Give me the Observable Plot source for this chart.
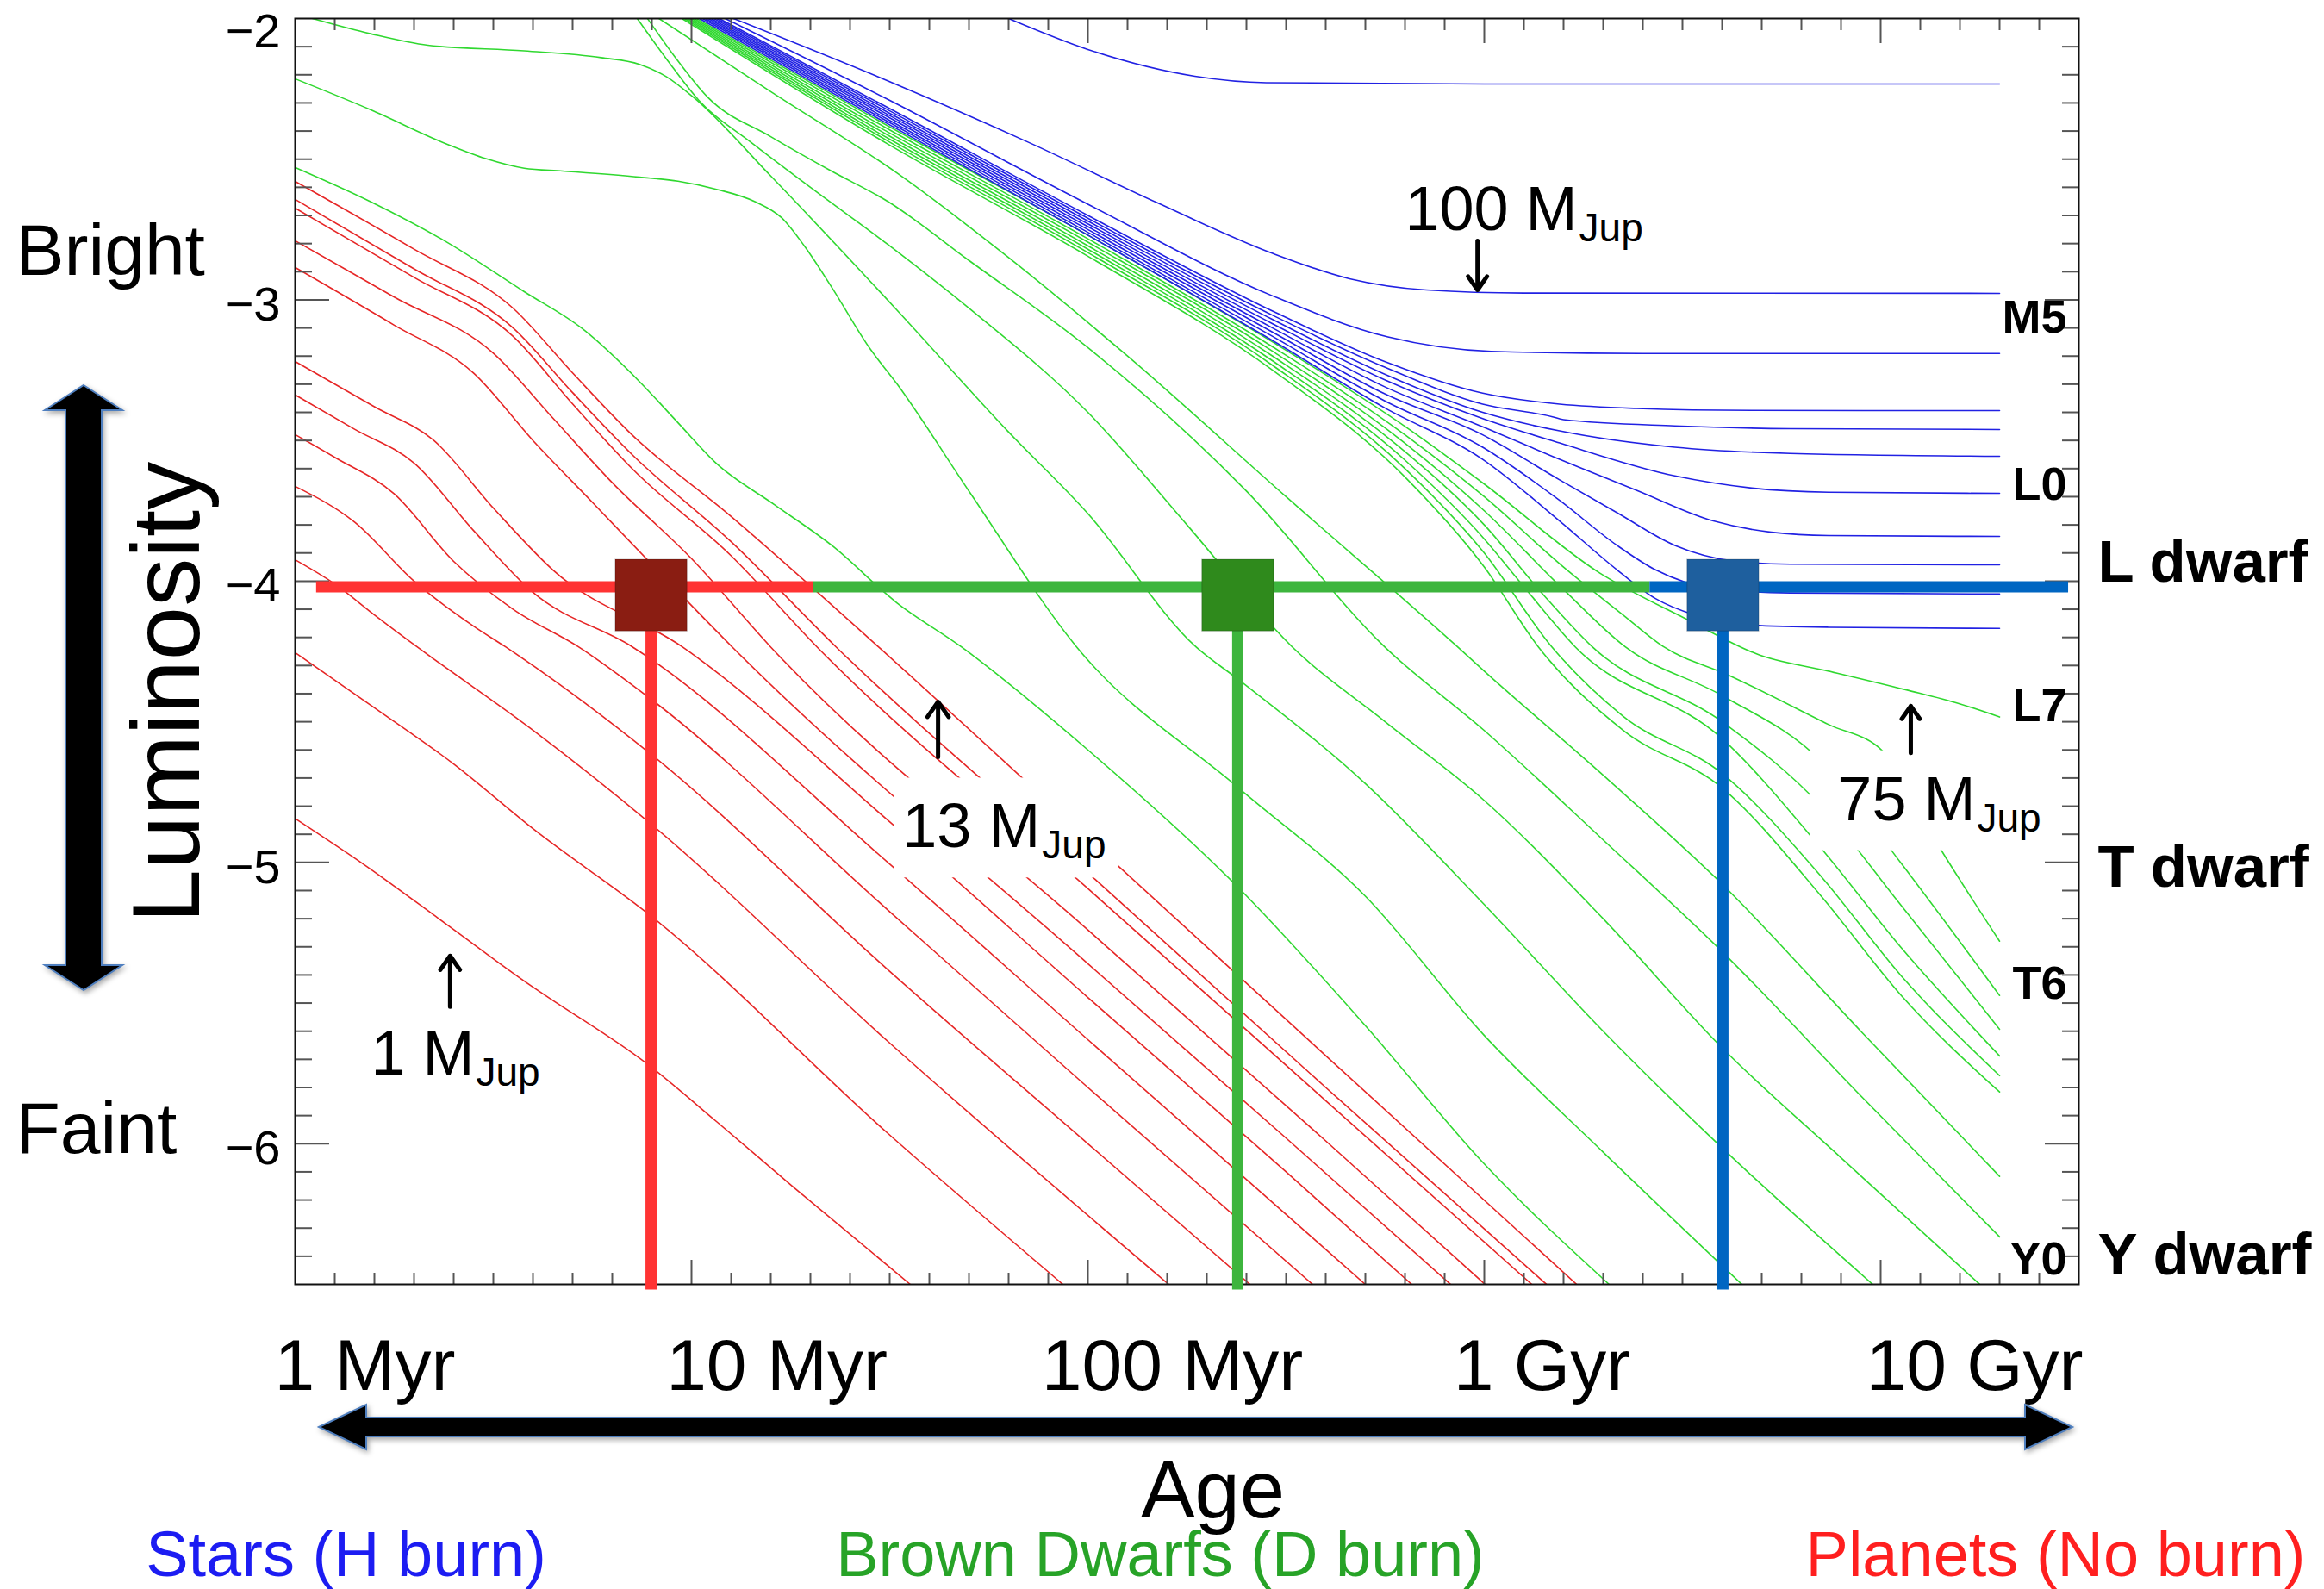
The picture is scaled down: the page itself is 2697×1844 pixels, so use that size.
<!DOCTYPE html>
<html><head><meta charset="utf-8">
<script src="https://cdn.jsdelivr.net/npm/d3@7"></script>
<script src="https://cdn.jsdelivr.net/npm/@observablehq/plot@0.6"></script>
<style>
body{margin:0;background:#fff;}
#chart svg{display:block;}
</style></head><body><div id="chart"></div>
<script>
// ---- Data: evolutionary tracks, [log10(age/yr), log10(L/Lsun)] ----
const planetTracks = [
  [[6.0,-2.579],[6.3,-2.82],[6.55,-3.03],[6.7,-3.26],[6.85,-3.48],[7.1,-3.77],[7.471,-4.233],[8.0,-4.914],[8.6,-5.687],[9.233,-6.5]],
  [[6.0,-2.643],[6.3,-2.89],[6.55,-3.10],[6.7,-3.33],[6.85,-3.55],[7.1,-3.86],[7.364,-4.233],[8.0,-5.037],[8.6,-5.80],[9.157,-6.5]],
  [[6.0,-2.674],[6.3,-2.92],[6.55,-3.13],[6.7,-3.37],[6.85,-3.60],[7.1,-3.91],[7.316,-4.233],[8.0,-5.093],[8.6,-5.847],[9.12,-6.5]],
  [[6.0,-2.79],[6.25,-2.99],[6.5,-3.19],[6.65,-3.42],[6.8,-3.65],[7.0,-3.92],[7.199,-4.233],[8.0,-5.24],[8.6,-5.99],[9.002,-6.5]],
  [[6.0,-2.885],[6.25,-3.09],[6.45,-3.26],[6.6,-3.5],[6.75,-3.72],[6.92,-3.97],[7.102,-4.233],[8.0,-5.36],[8.5,-5.98],[8.915,-6.5]],
  [[6.0,-3.219],[6.2,-3.38],[6.35,-3.50],[6.5,-3.74],[6.65,-3.96],[6.976,-4.233],[7.496,-4.851],[8.0,-5.48],[8.5,-6.10],[8.817,-6.5]],
  [[6.0,-3.338],[6.15,-3.46],[6.3,-3.58],[6.45,-3.82],[6.6,-4.04],[6.85,-4.233],[7.496,-5.001],[8.0,-5.63],[8.7,-6.5]],
  [[6.0,-3.479],[6.1,-3.56],[6.25,-3.69],[6.4,-3.93],[6.55,-4.10],[6.714,-4.233],[6.9,-4.422],[7.496,-5.17],[8.0,-5.80],[8.567,-6.5]],
  [[6.0,-3.663],[6.15,-3.79],[6.3,-4.0],[6.45,-4.16],[6.53,-4.233],[6.9,-4.618],[7.496,-5.382],[8.0,-6.0],[8.409,-6.5]],
  [[6.0,-3.924],[6.1,-4.01],[6.2,-4.12],[6.307,-4.233],[6.6,-4.53],[6.9,-4.866],[7.496,-5.637],[8.204,-6.5]],
  [[6.0,-4.254],[6.2,-4.45],[6.4,-4.65],[6.6,-4.88],[6.9,-5.193],[7.496,-5.964],[7.937,-6.5]],
  [[6.0,-4.844],[6.17,-5.004],[6.384,-5.222],[6.598,-5.441],[6.636,-5.477],[6.889,-5.717],[7.063,-5.921],[7.257,-6.154],[7.552,-6.5]]
];
const dwarfTracks = [
  [[5.996,-2.527],[6.19,-2.651],[6.384,-2.796],[6.578,-2.971],[6.724,-3.102],[6.869,-3.291],[6.966,-3.437],[7.063,-3.582],[7.209,-3.728],[7.354,-3.873],[7.518,-4.077],[7.68,-4.233],[8.0,-4.6],[8.38,-5.09],[8.7,-5.58],[8.996,-6.066],[9.315,-6.5]],
  [[5.996,-2.212],[6.19,-2.324],[6.384,-2.447],[6.481,-2.498],[6.578,-2.532],[6.675,-2.542],[6.869,-2.564],[6.966,-2.578],[7.063,-2.607],[7.16,-2.651],[7.228,-2.709],[7.286,-2.811],[7.354,-2.956],[7.451,-3.175],[7.518,-3.298],[7.7,-3.68],[7.971,-4.233],[8.38,-4.735],[8.7,-5.12],[9.0,-5.615],[9.3,-6.03],[9.65,-6.5]],
  [[6.044,-2.0],[6.19,-2.054],[6.335,-2.095],[6.578,-2.115],[6.772,-2.139],[6.869,-2.163],[6.937,-2.207],[7.005,-2.28],[7.2,-2.56],[7.518,-3.036],[7.8,-3.47],[8.0,-3.76],[8.272,-4.233],[8.38,-4.35],[8.7,-4.72],[9.0,-5.15],[9.3,-5.6],[9.6,-6.015],[9.98,-6.5]],
  [[6.863,-2.0],[6.94,-2.15],[7.018,-2.29],[7.15,-2.44],[7.3,-2.6],[7.496,-2.804],[7.7,-3.03],[8.0,-3.4],[8.25,-3.8],[8.515,-4.233],[8.75,-4.5],[9.0,-4.78],[9.3,-5.2],[9.6,-5.659],[9.9,-6.05],[10.25,-6.5]],
  [[6.889,-2.0],[6.96,-2.14],[7.041,-2.28],[7.2,-2.42],[7.35,-2.54],[7.496,-2.651],[7.7,-2.86],[8.0,-3.17],[8.4,-3.68],[8.748,-4.233],[9.0,-4.531],[9.3,-4.92],[9.6,-5.317],[9.95,-5.83],[10.3,-6.331]],
  [[6.918,-2.0],[7.2,-2.26],[7.518,-2.549],[7.8,-2.85],[8.1,-3.2],[8.5,-3.7],[8.932,-4.233],[9.0,-4.32],[9.3,-4.69],[9.6,-5.077],[9.95,-5.6],[10.3,-6.116]],
  [[6.976,-2.0],[7.496,-2.447],[8.0,-2.845],[8.466,-3.25],[8.8,-3.63],[9.0,-3.95],[9.136,-4.233],[9.35,-4.53],[9.6,-4.735],[9.85,-5.12],[10.05,-5.47],[10.3,-5.816]],
  [[6.982,-2.0],[7.496,-2.436],[8.0,-2.832],[8.466,-3.233],[8.8,-3.6],[9.0,-3.9],[9.17,-4.233],[9.35,-4.48],[9.6,-4.684],[9.85,-5.05],[10.05,-5.4],[10.3,-5.758]],
  [[6.988,-2.0],[7.496,-2.426],[8.0,-2.82],[8.466,-3.217],[8.8,-3.57],[9.0,-3.85],[9.1,-4.02],[9.229,-4.233],[9.6,-4.56],[9.85,-4.95],[10.05,-5.3],[10.3,-5.688]],
  [[6.994,-2.0],[7.496,-2.415],[8.0,-2.808],[8.466,-3.2],[8.8,-3.54],[9.0,-3.8],[9.15,-4.05],[9.272,-4.233],[9.6,-4.5],[9.85,-4.8],[10.05,-5.15],[10.3,-5.593]],
  [[7.0,-2.0],[7.496,-2.404],[8.0,-2.795],[8.466,-3.183],[8.8,-3.51],[9.0,-3.75],[9.2,-4.03],[9.355,-4.233],[9.6,-4.407],[9.85,-4.64],[10.05,-5.0],[10.3,-5.473]],
  [[7.006,-2.0],[7.496,-2.393],[8.0,-2.783],[8.466,-3.167],[8.8,-3.48],[9.0,-3.7],[9.2,-3.95],[9.35,-4.12],[9.452,-4.233],[9.617,-4.335],[9.869,-4.51],[10.005,-4.604],[10.15,-4.95],[10.3,-5.28]],
  [[7.012,-2.0],[7.496,-2.382],[8.0,-2.77],[8.466,-3.15],[8.8,-3.45],[9.0,-3.655],[9.29,-3.97],[9.51,-4.135],[9.695,-4.263],[9.869,-4.32],[10.063,-4.386],[10.199,-4.436],[10.3,-4.483]]
];
const starTracks = [
  [[7.02,-2.0],[7.496,-2.375],[8.0,-2.77],[8.466,-3.145],[8.75,-3.385],[8.996,-3.567],[9.19,-3.786],[9.335,-3.96],[9.432,-4.062],[9.53,-4.12],[9.675,-4.157],[9.869,-4.164],[10.3,-4.168]],
  [[7.028,-2.0],[7.496,-2.367],[8.0,-2.76],[8.466,-3.13],[8.75,-3.36],[8.996,-3.524],[9.19,-3.713],[9.335,-3.873],[9.432,-3.96],[9.578,-4.026],[9.772,-4.042],[10.3,-4.046]],
  [[7.035,-2.0],[7.496,-2.359],[8.0,-2.75],[8.466,-3.115],[8.75,-3.335],[8.996,-3.48],[9.19,-3.64],[9.335,-3.757],[9.481,-3.873],[9.627,-3.928],[9.772,-3.94],[10.3,-3.942]],
  [[7.042,-2.0],[7.496,-2.35],[8.0,-2.74],[8.466,-3.1],[8.75,-3.31],[8.996,-3.451],[9.19,-3.567],[9.384,-3.677],[9.578,-3.786],[9.724,-3.826],[9.869,-3.838],[10.3,-3.841]],
  [[7.049,-2.0],[7.496,-2.342],[8.0,-2.73],[8.466,-3.085],[8.75,-3.285],[8.996,-3.422],[9.19,-3.509],[9.481,-3.626],[9.675,-3.669],[9.869,-3.684],[10.3,-3.688]],
  [[7.056,-2.0],[7.496,-2.334],[8.0,-2.72],[8.466,-3.07],[8.75,-3.265],[8.996,-3.4],[9.19,-3.466],[9.481,-3.524],[9.772,-3.546],[10.3,-3.556]],
  [[7.063,-2.0],[7.496,-2.325],[8.0,-2.71],[8.466,-3.055],[8.75,-3.24],[8.996,-3.371],[9.17,-3.415],[9.2,-3.426],[9.481,-3.448],[9.772,-3.458],[10.3,-3.461]],
  [[7.07,-2.0],[7.496,-2.317],[8.0,-2.70],[8.466,-3.04],[8.75,-3.22],[8.996,-3.332],[9.19,-3.371],[9.384,-3.386],[9.675,-3.393],[10.3,-3.394]],
  [[7.085,-2.0],[7.496,-2.288],[8.0,-2.66],[8.466,-2.986],[8.757,-3.132],[9.017,-3.183],[9.4,-3.191],[10.3,-3.191]],
  [[7.106,-2.0],[7.496,-2.222],[7.85,-2.44],[8.175,-2.655],[8.466,-2.835],[8.66,-2.925],[8.854,-2.965],[9.1,-2.976],[10.3,-2.977]],
  [[7.8,-2.0],[8.0,-2.11],[8.27,-2.205],[8.45,-2.228],[9.0,-2.233],[10.3,-2.233]]
];

// ---- Annotation data ----
const ageTickValues = [6, 7, 8, 9, 10];
const ageTickLabels = ["1 Myr", "10 Myr", "100 Myr", "1 Gyr", "10 Gyr"];
const ageLabelShift = [81, 99, 98, 67, 109];
const lumTickValues = [-2, -3, -4, -5, -6];
const majorAgeTicks = [7, 8, 9, 10];
const minorAgeTicks = d3.range(61, 105).filter(v => v % 10 !== 0).map(v => v / 10);
const majorLumTicks = [-3, -4, -5, -6];
const minorLumTicks = d3.range(-64, -20).filter(v => v % 10 !== 0).map(v => v / 10);
const spectralTypes = ["M5", "L0", "L7", "T6", "Y0"];
const spectralLum = [-3.057, -3.651, -4.438, -5.424, -6.407];
const dwarfClasses = ["L dwarf", "T dwarf", "Y dwarf"];
const dwarfClassLum = [-3.927, -5.011, -6.392];
const levelLum = -4.02;
const levelSegments = [
  {x1: 6.054, x2: 7.308, color: "#ff3333"},
  {x1: 7.308, x2: 9.418, color: "#3db53d"},
  {x1: 9.418, x2: 10.474, color: "#0066c2"}
];
const ageBars = [
  {age: 6.898, color: "#ff3333", sq: "#8a1d12"},
  {age: 8.378, color: "#3db53d", sq: "#2f8a1c"},
  {age: 9.602, color: "#0066c2", sq: "#1e5f9e"}
];
const squareLum = -4.05;
const barBottom = -6.52;
const massLabels = [
  {main: "100 M", sub: "Jup", age: 9.235, lum: -2.753},
  {main: "13 M", sub: "Jup", age: 7.88, lum: -4.946},
  {main: "75 M", sub: "Jup", age: 10.239, lum: -4.851},
  {main: "1 M", sub: "Jup", age: 6.452, lum: -5.753}
];
const massArrows = [
  {age: 8.983, from: -2.79, to: -2.965},
  {age: 7.622, from: -4.625, to: -4.429},
  {age: 10.076, from: -4.611, to: -4.444},
  {age: 6.391, from: -5.513, to: -5.332}
];
const maskBoxes = [
  {x1: 7.511, x2: 8.078, y1: -4.70, y2: -5.055},
  {x1: 9.822, x2: 10.35, y1: -4.603, y2: -4.958}
];
const starLabel = "Stars (H burn)";
const dwarfLabel = "Brown Dwarfs (D burn)";
const planetLabel = "Planets (No burn)";

function toRows(tracks, group) {
  const out = [];
  tracks.forEach((pts, i) => pts.forEach(([age, lum]) => out.push({id: group + i, age, lum})));
  return out;
}
const planetRows = toRows(planetTracks, "p");
const dwarfRows = toRows(dwarfTracks, "d");
const starRows = toRows(starTracks, "s");

const FONT = "Liberation Sans, Arial, Helvetica, sans-serif";
const tickStyle = {stroke: "#555", strokeWidth: 2, tickFormat: () => "", label: null};

const chart = Plot.plot({
  width: 2697,
  height: 1844,
  marginLeft: 342,
  marginRight: 285,
  marginTop: 21,
  marginBottom: 354,
  x: {domain: [6, 10.5]},
  y: {domain: [-6.5, -2]},
  style: {fontFamily: FONT, background: "white", overflow: "visible"},
  marks: [
    Plot.line(planetRows, {x: "age", y: "lum", z: "id", stroke: "#e62626", strokeWidth: 1.6, curve: "monotone-x", clip: true}),
    Plot.line(dwarfRows, {x: "age", y: "lum", z: "id", stroke: "#30d830", strokeWidth: 1.6, curve: "monotone-x", clip: true}),
    Plot.line(starRows, {x: "age", y: "lum", z: "id", stroke: "#2121e3", strokeWidth: 1.6, curve: "monotone-x", clip: true}),
    Plot.rect(maskBoxes, {x1: "x1", x2: "x2", y1: "y1", y2: "y2", fill: "white"}),
    Plot.axisX(minorAgeTicks, {anchor: "top", tickSize: -13, ...tickStyle}),
    Plot.axisX(majorAgeTicks, {anchor: "top", tickSize: -28, ...tickStyle}),
    Plot.axisX(minorAgeTicks, {anchor: "bottom", tickSize: -13, ...tickStyle}),
    Plot.axisX(majorAgeTicks, {anchor: "bottom", tickSize: -28, ...tickStyle}),
    Plot.axisY(minorLumTicks, {anchor: "left", tickSize: -20, ...tickStyle}),
    Plot.axisY(majorLumTicks, {anchor: "left", tickSize: -40, ...tickStyle}),
    Plot.axisY(minorLumTicks, {anchor: "right", tickSize: -20, ...tickStyle}),
    Plot.axisY(majorLumTicks, {anchor: "right", tickSize: -40, ...tickStyle}),
    Plot.frame({stroke: "#111", strokeWidth: 2}),
    Plot.ruleY(levelSegments, {y: levelLum, x1: "x1", x2: "x2", stroke: "color", strokeWidth: 13}),
    Plot.ruleX(ageBars, {x: "age", y1: squareLum, y2: barBottom, stroke: "color", strokeWidth: 13}),
    Plot.dot(ageBars, {x: "age", y: squareLum, symbol: "square", r: 47, fill: "sq", stroke: "#00000022"}),
    Plot.arrow(massArrows, {x1: "age", x2: "age", y1: "from", y2: "to", stroke: "black", strokeWidth: 5, headLength: 26, headAngle: 70}),
    Plot.text(massLabels, {x: "age", y: "lum", text: "main", textAnchor: "end", lineAnchor: "bottom", fontSize: 72, fill: "black", fontFamily: FONT}),
    Plot.text(massLabels, {x: "age", y: "lum", text: "sub", textAnchor: "start", lineAnchor: "bottom", fontSize: 46, dx: 2, dy: 13, fill: "black", fontFamily: FONT}),
    Plot.text(spectralTypes, {y: (d, i) => spectralLum[i], text: d => d, frameAnchor: "right", dx: -14, dy: 2, textAnchor: "end", lineAnchor: "middle", fontSize: 54, fontWeight: "bold", fontFamily: FONT}),
    Plot.text(dwarfClasses, {y: (d, i) => dwarfClassLum[i], text: d => d, frameAnchor: "right", dx: 22, dy: 2, textAnchor: "start", lineAnchor: "middle", fontSize: 69, fontWeight: "bold", fontFamily: FONT}),
    Plot.text(lumTickValues.slice(0, 1), {y: d => d, text: d => "\u2212" + Math.abs(d), frameAnchor: "left", dx: -17, dy: 16, textAnchor: "end", lineAnchor: "middle", fontSize: 56, fontFamily: FONT}),
    Plot.text(lumTickValues.slice(1), {y: d => d, text: d => "\u2212" + Math.abs(d), frameAnchor: "left", dx: -17, dy: 6, textAnchor: "end", lineAnchor: "middle", fontSize: 56, fontFamily: FONT}),
    ...ageTickValues.map((v, i) => Plot.text([v], {x: d => d, text: () => ageTickLabels[i], frameAnchor: "bottom", dx: ageLabelShift[i], dy: 122, lineAnchor: "bottom", fontSize: 84, fontFamily: FONT})),
    Plot.text(["Age"], {frameAnchor: "bottom", dx: 30, dy: 270, lineAnchor: "bottom", fontSize: 94, fontFamily: FONT}),
    Plot.text([starLabel], {frameAnchor: "bottom-left", dx: 59, dy: 338, textAnchor: "middle", lineAnchor: "bottom", fontSize: 74, fill: "#1c1cf2", fontFamily: FONT}),
    Plot.text([dwarfLabel], {frameAnchor: "bottom-left", dx: 1004, dy: 338, textAnchor: "middle", lineAnchor: "bottom", fontSize: 74, fill: "#27a327", fontFamily: FONT}),
    Plot.text([planetLabel], {frameAnchor: "bottom-left", dx: 2043, dy: 338, textAnchor: "middle", lineAnchor: "bottom", fontSize: 74, fill: "#ff1f1f", fontFamily: FONT}),
    Plot.text(["Bright"], {frameAnchor: "top-left", dx: -324, dy: 297, textAnchor: "start", lineAnchor: "bottom", fontSize: 84, fontFamily: FONT}),
    Plot.text(["Faint"], {frameAnchor: "top-left", dx: -324, dy: 1316, textAnchor: "start", lineAnchor: "bottom", fontSize: 84, fontFamily: FONT}),
    Plot.text(["Luminosity"], {frameAnchor: "top-left", dx: -112, dy: 782, rotate: -90, textAnchor: "middle", lineAnchor: "bottom", fontSize: 112, fontFamily: FONT})
  ]
});

const svg = d3.select(chart);
svg.append("path")
  .attr("d", "M97,447 L142,476 L118,476 L118,1120 L142,1120 L97,1149 L52,1120 L76,1120 L76,476 L52,476 Z")
  .attr("fill", "black").attr("stroke", "#4f7fbf").attr("stroke-width", 2)
  .style("filter", "drop-shadow(2px 3px 3px rgba(0,0,0,0.35))");
svg.append("path")
  .attr("d", "M370,1656 L425,1630 L425,1645 L2350,1645 L2350,1630 L2405,1656 L2350,1682 L2350,1667 L425,1667 L425,1682 Z")
  .attr("fill", "black").attr("stroke", "#4f7fbf").attr("stroke-width", 2)
  .style("filter", "drop-shadow(2px 3px 3px rgba(0,0,0,0.35))");

document.getElementById("chart").appendChild(chart);
</script>
</body></html>
